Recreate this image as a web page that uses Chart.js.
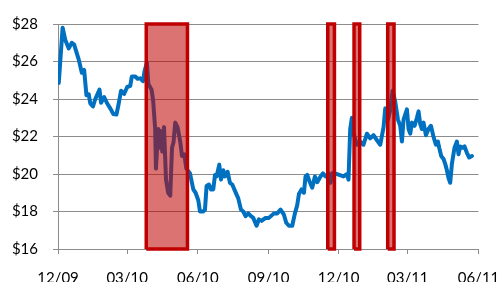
<!DOCTYPE html>
<html>
<head>
<meta charset="utf-8">
<script src="https://cdn.jsdelivr.net/npm/chart.js@4"></script>
<style>
  html, body { margin: 0; padding: 0; background: #fff; }
  #wrap { width: 499px; height: 282px; }
</style>
</head>
<body>
<div id="wrap"><canvas id="chartPrice"></canvas></div>
<script>
// days since 1 Dec 2009
var dayOffsets = [1, 6, 9.5, 14, 18, 21, 27, 31, 34, 37, 40, 42, 45.5, 48.5, 54, 56, 60, 64, 68, 72, 76, 79, 82, 86, 90,
  94, 96, 100.5, 103.5, 107, 110.5, 112.5, 115.6, 117.6, 121.7, 123.8, 126.4, 127.4, 130.4, 131.7, 133.5, 135.6, 137.9,
  140.5, 143.3, 146, 148.3, 150.3, 152.5, 155.5, 159.1, 161.3, 164.3, 166.9, 171.7, 176, 179, 182.5, 184.7, 189, 191.2,
  193.3, 196.4, 199, 202, 204.2, 206.3, 209.8, 212, 215, 217.2, 220.6, 223.7, 226.7, 230.2, 234.5, 238, 241, 244, 247.5,
  251, 254, 258.3, 261.4, 264.8, 270, 274.4, 280.9, 285.2, 289.5, 293.9, 296.9, 300.4, 304.7, 308.2, 311.2, 313.4, 316.8,
  319.9, 322, 324.2, 327.2, 330.7, 334.2, 337.2, 341.5, 344.6, 348, 352.4, 354.5, 357.6, 364, 371.4, 375.8, 377.9, 380.1,
  382.3, 384.4, 388.9, 393.2, 397.4, 401.9, 406.1, 410.4, 414.9, 419.2, 423.5, 425.7, 429.2, 432.2, 435.2, 438.7, 442.2,
  445.2, 447.4, 449.5, 453.9, 456, 458.2, 460.4, 463.8, 466.9, 469, 471.2, 473.4, 475.5, 478.6, 482, 485.1, 488.5, 491.6,
  494.2, 495.9, 498.5, 501.5, 503.7, 505.9, 508, 510.2, 512.4, 515.8, 518.9, 521, 523.2, 526.2, 528.8, 531.9, 534.9, 538.4];
var prices = [24.86, 27.8, 27.15, 26.7, 27.0, 26.9, 26.1, 25.4, 25.55, 24.2, 24.25, 23.76, 23.6, 24.0, 24.5, 23.8, 24.1, 23.76, 23.5, 23.2, 23.17, 23.76, 24.44, 24.27, 24.64,
  24.7, 25.2, 25.2, 25.08, 25.1, 24.95, 25.46, 25.95, 24.8, 24.5, 23.9, 22.4, 20.29, 22.4, 21.4, 22.3, 21.2, 22.5,
  19.7, 19.0, 18.85, 21.4, 21.7, 22.74, 22.5, 21.7, 20.96, 21.05, 20.3, 20.03, 19.18, 19.0, 18.6, 18.0, 18.0, 18.1,
  19.36, 19.44, 19.18, 19.18, 19.95, 19.87, 20.5, 19.7, 20.2, 19.87, 20.12, 19.53, 19.44, 19.1, 18.7, 18.1, 18.0, 17.75, 17.9,
  17.75, 17.66, 17.24, 17.58, 17.5, 17.66, 17.66, 17.9, 17.9, 18.1, 17.83, 17.4, 17.24, 17.24, 17.9, 18.34, 18.93, 19.18,
  19.0, 19.87, 19.95, 19.6, 19.27, 19.87, 19.56, 19.87, 20.03, 19.87, 20.03, 19.53, 20.07, 19.98, 19.87, 20.0, 19.7, 22.4,
  23.0, 22.15, 21.56, 21.73, 21.56, 22.15, 21.9, 22.07, 21.8, 21.56, 22.5, 23.5, 22.9, 23.4, 24.44, 23.85, 22.9,
  22.57, 21.73, 22.9, 23.45, 22.4, 22.15, 22.74, 22.57, 23.0, 23.34, 22.66, 22.4, 22.74, 22.07, 22.4, 22.57, 21.98, 21.56,
  21.73, 21.4, 20.96, 20.8, 20.54, 20.2, 19.78, 19.53, 20.54, 21.4, 21.73, 21.05, 21.47, 21.4, 21.47, 21.13, 20.88, 20.96];

// highlighted periods (days since 1 Dec 2009)
var highlightStarts = [114.8, 350.9, 385.1, 428.9];
var highlightEnds = [168.4, 359.6, 392.5, 437.1];

var tickDays = [0, 90, 182, 274, 365, 455, 547];
var tickLabels = ["12/09", "03/10", "06/10", "09/10", "12/10", "03/11", "06/11"];

var yMin = 16, yMax = 28;

Chart.defaults.font.family = 'Lato';
Chart.defaults.font.size = 15;
Chart.defaults.color = '#000';

var priceData = dayOffsets.map(function (d, i) { return { x: d, y: prices[i] }; });

var boxes = highlightStarts.map(function (s, i) {
  var e = highlightEnds[i];
  return {
    data: [{x: s, y: yMin}, {x: s, y: yMax}, {x: e, y: yMax}, {x: e, y: yMin}, {x: s, y: yMin}],
    fill: 'shape',
    backgroundColor: 'rgba(192, 0, 0, 0.55)',
    borderColor: '#c00000',
    borderWidth: 3.5,
    borderJoinStyle: 'miter',
    pointRadius: 0,
    tension: 0,
    clip: false
  };
});

var ctx = document.getElementById('chartPrice').getContext('2d');
var chart = new Chart(ctx, {
  type: 'line',
  data: {
    datasets: boxes.concat([{
      data: priceData,
      borderColor: '#0070c0',
      borderWidth: 4,
      borderJoinStyle: 'round',
      borderCapStyle: 'round',
      pointRadius: 0,
      tension: 0,
      fill: false
    }])
  },
  options: {
    responsive: true,
    maintainAspectRatio: false,
    animation: false,
    layout: { padding: { top: 13, right: 20.5, left: 0, bottom: 0 } },
    plugins: { legend: { display: false }, tooltip: { enabled: false } },
    scales: {
      x: {
        type: 'linear',
        min: 0,
        max: 547,
        afterBuildTicks: function (scale) {
          scale.ticks = tickDays.map(function (v) { return { value: v }; });
        },
        afterFit: function (scale) {
          scale.height = 33;
          scale.paddingLeft = 0;
          scale.paddingRight = 0;
        },
        ticks: {
          autoSkip: false,
          maxRotation: 0,
          padding: 15,
          callback: function (v, i) { return tickLabels[i]; }
        },
        grid: { drawOnChartArea: false, drawTicks: true, tickLength: 5, color: '#8c8c8c' },
        border: { color: '#8c8c8c' }
      },
      y: {
        min: yMin,
        max: yMax,
        afterFit: function (scale) { scale.width = 58; },
        ticks: {
          stepSize: 2,
          padding: 15,
          callback: function (v) { return '$' + v; }
        },
        grid: { color: '#8c8c8c', tickLength: 5 },
        border: { color: '#8c8c8c' }
      }
    }
  }
});
</script>
</body>
</html>
